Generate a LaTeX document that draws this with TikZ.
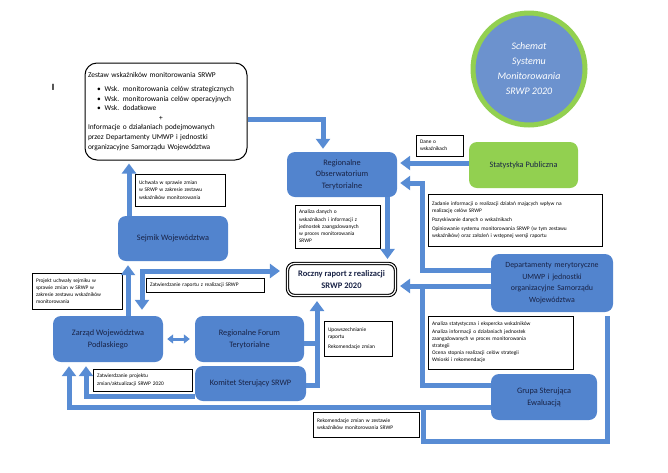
\documentclass[tikz,border=0pt]{standalone}
\usepackage{fontspec}
\setmainfont{Carlito}
\usetikzlibrary{arrows.meta,calc}
\definecolor{nodeblue}{RGB}{82,132,206}
\definecolor{arrblue}{RGB}{88,140,212}
\definecolor{txtdark}{RGB}{25,35,70}
\definecolor{statgreen}{RGB}{146,208,80}
\definecolor{circfill}{RGB}{108,146,206}
\newcommand\myspaces[1]{\spaceskip=#1 plus 0.5pt minus 0.2pt\relax}
\begin{document}
\begin{tikzpicture}[x=1pt,y=1pt,
 bluebox/.style={rectangle, rounded corners=8pt, fill=nodeblue, text=txtdark, align=center, font=\fontsize{8.3}{11.7}\selectfont, inner sep=2pt},
 lbl/.style={draw=black, line width=0.7pt, fill=white, align=left, font=\fontsize{5.4}{7.2}\selectfont\myspaces{2.9pt}, inner xsep=4pt, inner ysep=2pt},
 arr/.style={draw=arrblue, line width=5pt, -{Triangle[width=14pt,length=10pt]}},
 conn/.style={draw=arrblue, line width=5pt},
 dbl/.style={draw=arrblue, line width=5pt, {Triangle[width=14pt,length=10pt]}-{Triangle[width=14pt,length=10pt]}}
]
\useasboundingbox (0,0) rectangle (668,-472);

% title circle
\node[circle, fill=circfill, draw=statgreen, line width=5pt, minimum size=112pt, text=white,
  font=\itshape\fontsize{10}{15}\selectfont, align=center] (title) at (529,-69)
  {Schemat\\Systemu\\Monitorowania\\SRWP 2020};

\node[font=\sffamily\bfseries\fontsize{9}{9}\selectfont] (cursor) at (53,-87) {I};

% indicator box
\node[draw, line width=1pt, rounded corners=12pt, minimum width=162pt, minimum height=97pt,
  text width=156pt, inner xsep=3pt, align=left, font=\fontsize{7.4}{9.6}\selectfont\myspaces{2.8pt}] (ind) at (166,-111.5)
  {Zestaw wskaźników monitorowania SRWP\\[4pt]
   \hspace*{9pt}\textbullet\hspace{4pt}Wsk. monitorowania celów strategicznych\\
   \hspace*{9pt}\textbullet\hspace{4pt}Wsk. monitorowania celów operacyjnych\\
   \hspace*{9pt}\textbullet\hspace{4pt}Wsk. dodatkowe\\
   \hspace*{71pt}+\\
   Informacje o działaniach podejmowanych\\
   przez Departamenty UMWP i jednostki\\
   organizacyjne Samorządu Województwa};

% blue nodes
\node[bluebox, minimum width=110pt, minimum height=45pt] (rot) at (342,-174.5) {Regionalne\\Obserwatorium\\Terytorialne};
\node[bluebox, fill=statgreen, minimum width=109pt, minimum height=46pt] (stat) at (523.5,-165) {Statystyka Publiczna};
\node[bluebox, minimum width=122pt, minimum height=58pt, text width=118pt, font=\fontsize{7.9}{11.7}\selectfont] (dep) at (552,-283) {Departamenty merytoryczne\\UMWP i jednostki\\organizacyjne Samorządu\\Województwa};
\node[bluebox, minimum width=106pt, minimum height=46pt] (grupa) at (544,-397) {Grupa Sterująca\\Ewaluacją};
\node[bluebox, minimum width=110pt, minimum height=45pt] (sejmik) at (173,-238.5) {Sejmik Województwa};
\node[bluebox, minimum width=110pt, minimum height=46pt] (zarzad) at (108,-339) {Zarząd Województwa\\Podlaskiego};
\node[bluebox, minimum width=109pt, minimum height=46pt] (forum) at (249.5,-339) {Regionalne Forum\\Terytorialne};
\node[bluebox, minimum width=111pt, minimum height=35pt] (komitet) at (250.5,-383.5) {Komitet Sterujący SRWP};

% report
\node[draw, double, double distance=1.2pt, line width=1.1pt, rounded corners=7pt, minimum width=108pt,
  minimum height=32pt, align=center, text=txtdark, font=\bfseries\fontsize{8.5}{12}\selectfont] (rocz) at (341.5,-279.5)
  {Roczny raport z realizacji\\SRWP 2020};

% labels
\node[lbl, text width=39pt, minimum height=21pt] (dane) at (439.5,-145.5) {Dane o\\wskaźnikach};
\node[lbl, text width=77pt, minimum height=43pt] (anal1) at (337.5,-226.5) {Analiza danych o\\wskaźnikach i informacji z\\jednostek zaangażowanych\\w proces monitorowania\\SRWP};
\node[lbl, text width=166pt, minimum height=52pt] (zad) at (515,-220) {Zadanie informacji o realizacji działań mających wpływ na\\realizację celów SRWP\\[2pt]Pozyskiwanie danych o wskaźnikach\\[2pt]Opiniowanie systemu monitorowania SRWP (w tym zestawu\\wskaźników) oraz założeń i wstępnej wersji raportu};
\node[lbl, text width=137pt, minimum height=53pt] (anal2) at (500.5,-342.5) {Analiza statystyczna i ekspercka wskaźników\\Analiza informacji o działaniach jednostek\\zaangażowanych w proces monitorowania\\strategii\\Ocena stopnia realizacji celów strategii\\Wnioski i rekomendacje};
\node[lbl, text width=82pt, minimum height=32pt] (uchw) at (180,-190) {Uchwała w sprawie zmian\\w SRWP w zakresie zestawu\\wskaźników monitorowania};
\node[lbl, text width=82pt, minimum height=36pt] (proj) at (77,-291) {Projekt uchwały sejmiku w\\sprawie zmian w SRWP w\\zakresie zestawu wskaźników\\monitorowania};
\node[lbl, text width=110pt, minimum height=14pt] (zatw1) at (205,-285) {Zatwierdzanie raportu z realizacji SRWP};
\node[lbl, text width=60pt, minimum height=35pt] (upow) at (358,-338.5) {Upowszechnianie\\raportu\\[2pt]Rekomendacje zmian};
\node[lbl, text width=91pt, minimum height=22pt] (zatw2) at (142.5,-380) {Zatwierdzanie projektu\\zmian/aktualizacji SRWP 2020};
\node[lbl, text width=98pt, minimum height=25pt] (rekom) at (366,-424.5) {Rekomendacje zmian w zestawie\\wskaźników monitorowania SRWP};

% connectors
\draw[arr, shorten >=3pt] ([yshift=-7.5pt]ind.east) -| ([xshift=-19pt]rot.north);
\draw[arr, shorten >=3pt] ([yshift=2pt]stat.west) -- ([yshift=2pt]stat.west -| rot.east);
\draw[arr, shorten >=3pt] ([yshift=13pt]dep.west) -- ++(-68pt,0) |- ([yshift=-8.5pt]rot.east);
\draw[conn] ([yshift=12pt]grupa.west) -- ++(-68pt,0) |- ([yshift=-3pt]dep.west);
\draw[arr, shorten >=4pt] ([yshift=-3pt]dep.west) -- ([yshift=-3pt]dep.west -| rocz.east);
\draw[arr, shorten >=4pt] ([yshift=-10pt]grupa.west) -| ([xshift=-39pt]zarzad.south);
\draw[conn] ([xshift=55pt,yshift=-4pt]dep.south) -- ++(0,-125pt) -- ++(-184pt,0) -- ++(0,34pt);
\draw[arr, shorten >=4pt] ([xshift=45.5pt]rot.south) -- ([xshift=45.5pt]rot.south |- rocz.north);
\draw[arr, shorten >=3pt] ([xshift=-44pt]sejmik.north) -- ([xshift=-44pt]sejmik.north |- ind.south);
\draw[arr, shorten >=4pt] ([xshift=20pt]zarzad.north) -- ([xshift=20pt]zarzad.north |- sejmik.south);
\draw[dbl, shorten <=7pt, shorten >=6pt] ([yshift=8.5pt]rocz.west) -| ([xshift=34pt]zarzad.north);
\draw[draw=arrblue, line width=3pt, {Triangle[width=9pt,length=6pt]}-{Triangle[width=9pt,length=6pt]}, shorten <=4pt, shorten >=5pt] (zarzad.east) -- (forum.west);
\draw[conn] ([yshift=-4pt]forum.east) -- ++(15.5pt,0);
\draw[arr, shorten >=5pt] ([yshift=-1.5pt]komitet.east) -| ([xshift=-24.5pt]rocz.south);
\draw[arr, shorten >=4pt] ([yshift=-12.5pt]komitet.west) -| ([xshift=-22pt]zarzad.south);
\end{tikzpicture}
\end{document}
